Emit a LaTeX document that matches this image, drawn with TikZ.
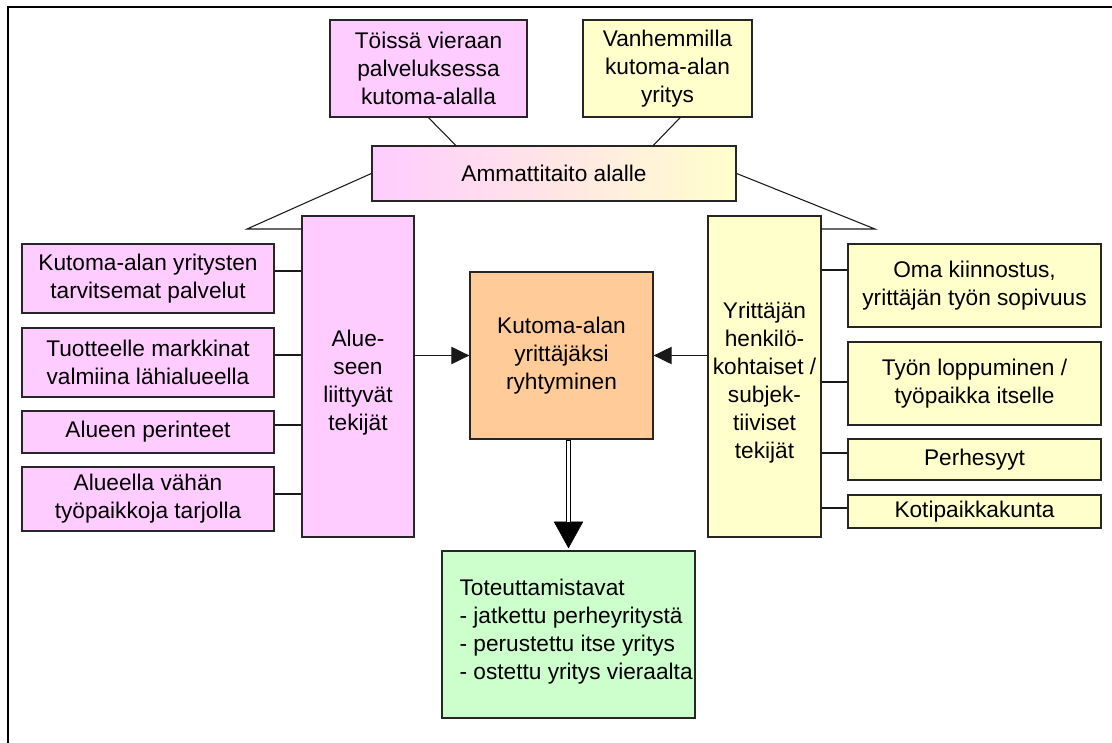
\documentclass[tikz,border=0pt]{standalone}
\usepackage{fontspec}
\setmainfont{Liberation Sans}
\usetikzlibrary{arrows.meta,calc}
\definecolor{pinkf}{HTML}{FFCCFF}
\definecolor{yellowf}{HTML}{FFFFCC}
\definecolor{orangef}{HTML}{FFCC99}
\definecolor{greenf}{HTML}{CCFFCC}
% invisible strut that pushes a text block down inside its box
\newcommand\topgap{\rule{0pt}{21.4pt}}

\begin{document}
\begin{tikzpicture}[x=0.75pt,y=-0.75pt,
  txt/.style={font=\fontsize{17}{21}\selectfont},
  box/.style={txt, draw=black!85, line width=1pt, align=center, inner sep=0pt},
  wh/.style 2 args={minimum width=#1*0.75pt, minimum height=#2*0.75pt},
  link/.style={draw=black!90, line width=0.8pt},
  arr/.style={link, -{Triangle[length=13.5pt,width=13pt]}}]
\useasboundingbox (0,0) rectangle (1112,742);

% frame
\draw[line width=1.5pt] (7.8,760) -- (7.8,6.8) -- (1130,6.8);

% top row
\node[box, fill=pinkf, wh={197}{97}] (toissa) at (428.5,68.5)
  {Töissä vieraan\\palveluksessa\\kutoma-alalla};
\node[box, fill=yellowf, wh={169}{97}] (vanhem) at (667.5,68.5)
  {Vanhemmilla\\kutoma-alan\\yritys};
\node[box, left color=pinkf, right color=yellowf, wh={364}{55}] (ammatti) at (554,173.5)
  {Ammattitaito alalle};

% middle columns
\node[box, fill=pinkf, wh={112}{321}] (alue) at (358,376.5)
  {\topgap Alue-\\seen\\liittyvät\\tekijät};
\node[box, fill=yellowf, wh={113}{321}] (yritt) at (764.5,376.5)
  {\topgap Yrittäjän\\henkilö-\\kohtaiset /\\subjek-\\tiiviset\\tekijät};
\node[box, fill=orangef, wh={183}{167}] (center) at (561.5,355.5)
  {Kutoma-alan\\yrittäjäksi\\ryhtyminen};

% regional factors
\node[box, fill=pinkf, wh={252}{69}] (l1) at (148,278.5)
  {Kutoma-alan yritysten\\tarvitsemat palvelut};
\node[box, fill=pinkf, wh={252}{69}] (l2) at (148,362.5)
  {Tuotteelle markkinat\\valmiina lähialueella};
\node[box, fill=pinkf, wh={252}{42}] (l3) at (148,432)
  {Alueen perinteet};
\node[box, fill=pinkf, wh={252}{64}] (l4) at (148,499)
  {Alueella vähän\\työpaikkoja tarjolla};

% personal factors
\node[box, fill=yellowf, wh={253}{83}] (r1) at (974.5,285.5)
  {Oma kiinnostus,\\yrittäjän työn sopivuus};
\node[box, fill=yellowf, wh={253}{83}] (r2) at (974.5,383.5)
  {Työn loppuminen /\\työpaikka itselle};
\node[box, fill=yellowf, wh={253}{41}] (r3) at (974.5,459.5)
  {Perhesyyt};
\node[box, fill=yellowf, wh={253}{33}] (r4) at (974.5,511.5)
  {Kotipaikkakunta};

% outcome
\node[box, fill=greenf, wh={253}{167}] (green) at (568.5,634.5) {};
\node[txt, anchor=west, align=left, inner sep=0pt] (gtext) at ([xshift=13.5pt,yshift=2pt]green.west)
  {Toteuttamistavat\\- jatkettu perheyritystä\\- perustettu itse yritys\\- ostettu yritys vieraalta};

% connectors to the skills box
\draw[link] (toissa.south) -- ($(ammatti.north west)!0.231!(ammatti.north east)$);
\draw[link] ($(vanhem.south west)!0.574!(vanhem.south east)$) -- ($(ammatti.north west)!0.772!(ammatti.north east)$);
\coordinate (kl) at (247,229);
\coordinate (kr) at (875,229);
\draw[link] (ammatti.west) -- (kl) -- (kl -| alue.west);
\draw[link] (ammatti.east) -- (kr) -- (kr -| yritt.east);

% side connectors
\foreach \n/\d in {l1/7.5, l2/7.5, l3/7, l4/5}
  \draw[link] (\n.east) ++(0,-\d) coordinate (t) -- (t -| alue.west);
\foreach \n/\d in {r1/15.5, r2/1.5, r3/6.5, r4/3.5}
  \draw[link] (\n.west) ++(0,-\d) coordinate (t) -- (t -| yritt.east);

% arrows into the centre
\draw[arr] (alue.east |- center.west) -- (center.west);
\draw[arr] (yritt.west |- center.east) -- (center.east);

% double arrow down
\coordinate (dtop) at (green.north |- center.south);
\draw[line width=4.2pt, -{Triangle[length=20pt,width=22pt,line width=0.4pt]}]
  (dtop) -- ([yshift=1.5pt]green.north);
\draw[white, line width=1.6pt, shorten >=21pt, shorten <=0.8pt] (dtop) -- (green.north);
\end{tikzpicture}
\end{document}
